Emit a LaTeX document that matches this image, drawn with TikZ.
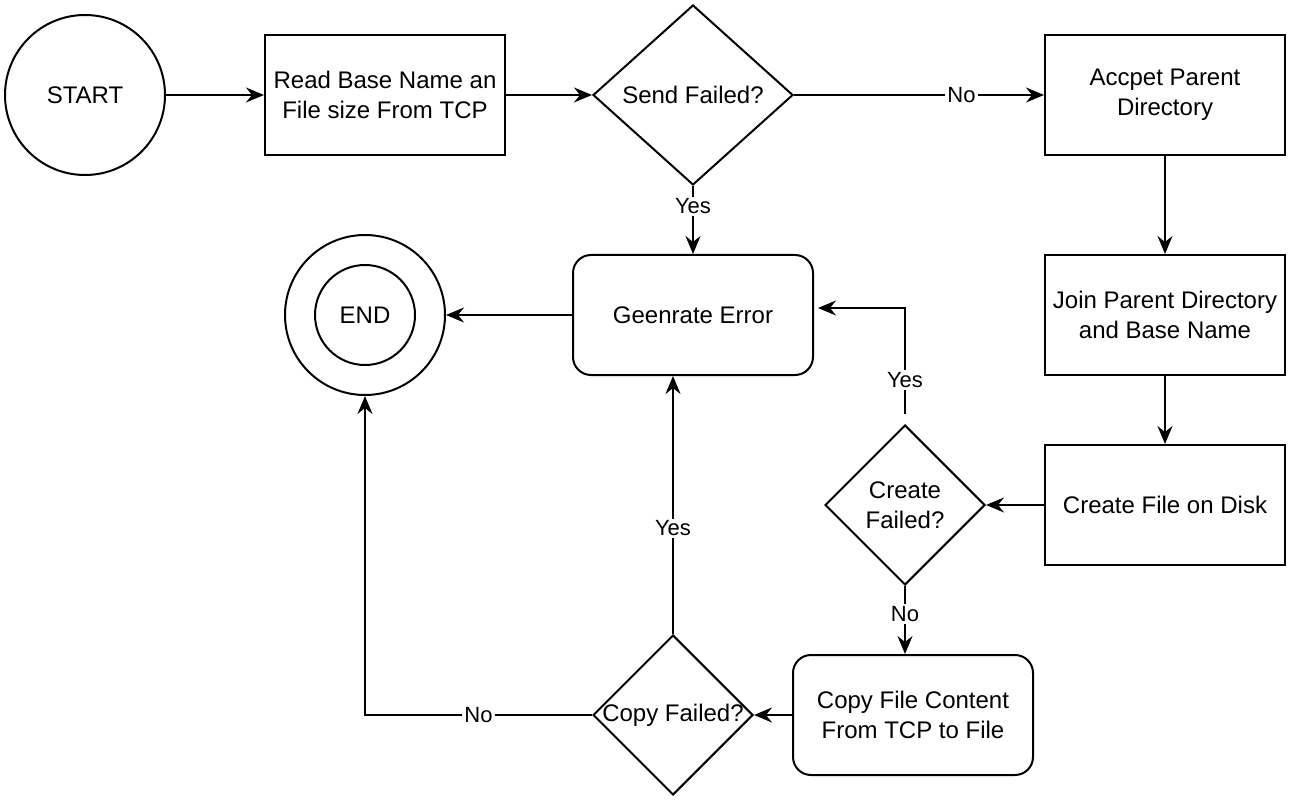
\documentclass[tikz,border=0pt]{standalone}
\usepackage{fontspec}
\setmainfont{Liberation Sans}
\usetikzlibrary{arrows.meta, shapes.geometric, positioning, calc}

\begin{document}
\begin{tikzpicture}[x=0.5pt, y=-0.5pt,
        >={Stealth[length=9pt, width=7.5pt, inset=3pt]},
        line width=1pt,
        every node/.style={font=\fontsize{12}{15}\selectfont, align=center},
        box/.style={draw, minimum width=120pt, minimum height=60pt, inner sep=2pt},
        roundbox/.style={box, rounded corners=9pt},
        decision/.style={draw, diamond, inner sep=0pt, minimum width=80pt, minimum height=80pt},
        terminal/.style={draw, circle, inner sep=0pt, minimum size=80pt},
        edgelabel/.style={fill=white, inner sep=1pt, font=\fontsize{11}{13}\selectfont}]

        \useasboundingbox (0,0) rectangle (1290,802);

        % Top row
        \node[terminal] (start) at (85,95) {START};
        \node[box] (read) at (385,95) {Read Base Name an\\File size From TCP};
        \node[decision, minimum width=100pt, minimum height=90pt] (sendf) at (693,95) {Send Failed?};
        \node[box] (accept) at (1165,95) {Accpet Parent\\Directory};

        % Right column
        \node[box] (join) at (1165,315) {Join Parent Directory\\and Base Name};
        \node[box] (create) at (1165,505) {Create File on Disk};

        % Checks
        \node[decision] (createf) at (905,505) {Create\\Failed?};
        \node[roundbox] (copy) at (913,715) {Copy File Content\\From TCP to File};
        \node[decision] (copyf) at (673,715) {\makebox[0pt]{Copy Failed?}};

        % Error and end
        \node[roundbox] (err) at (693,315) {Geenrate Error};
        \node[terminal] (endo) at (365,315) {};
        \node[terminal, minimum size=50pt] (endi) at (365,315) {END};

        % Connectors
        \draw[->] (start) -- (read);
        \draw[->] (read) -- (sendf);
        \draw[->] (sendf) -- node[edgelabel, pos=0.67] {No} (accept);
        \draw[->] (sendf) -- node[edgelabel, pos=0.3] {Yes} (err);
        \draw[->] (accept) -- (join);
        \draw[->] (join) -- (create);
        \draw[->] (create) -- (createf);
        \draw[->] ([yshift=5pt]createf.north) |- node[edgelabel, pos=0.16] {Yes} ([xshift=2pt, yshift=3.5pt]err.east);
        \draw[->] (createf.south) -- node[edgelabel, pos=0.41] {No} (createf.south |- copy.north);
        \draw[->] (copy) -- (copyf);
        \draw[->] (copyf.north) -- node[edgelabel, pos=0.41] {Yes} (copyf.north |- err.south);
        \draw[->] (copyf.west) -| node[edgelabel, pos=0.25] {No} (endo.south);
        \draw[->] (err) -- (endo);

    \end{tikzpicture}
\end{document}
